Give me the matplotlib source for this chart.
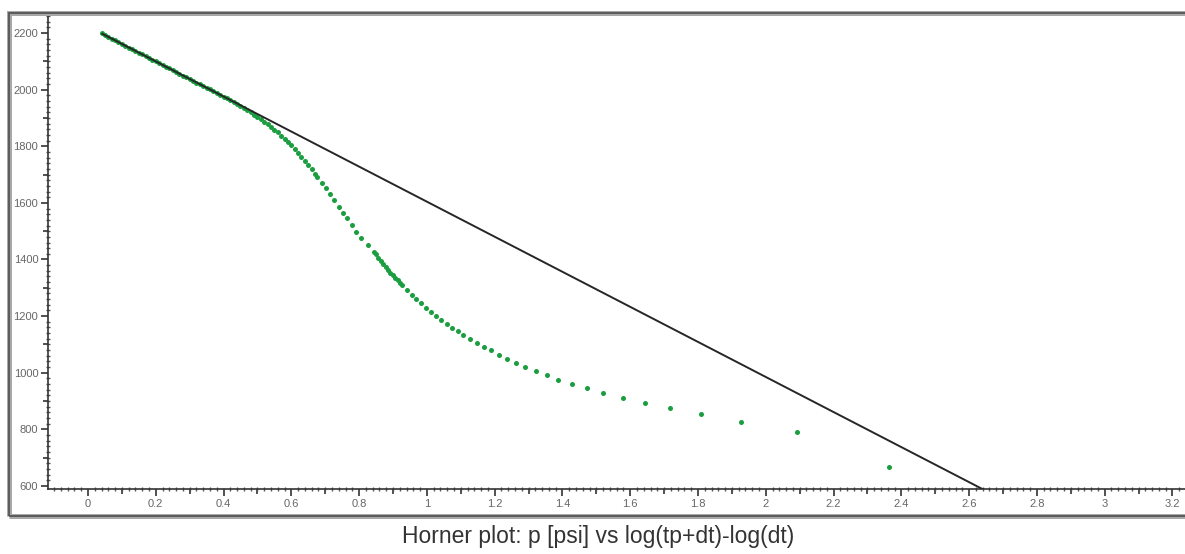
import numpy as np
import matplotlib
matplotlib.use("Agg")
import matplotlib.pyplot as plt
from matplotlib.patches import Rectangle
from matplotlib.ticker import MultipleLocator

plt.rcParams['font.family'] = ['Liberation Sans', 'DejaVu Sans']

# Horner data: x = log(tp+dt)-log(dt), p in psi
horner_x = [0.04, 0.05, 0.06, 0.07, 0.08, 0.09, 0.10, 0.11, 0.12, 0.13,
            0.14, 0.15, 0.16, 0.17, 0.18, 0.19, 0.20, 0.21, 0.22, 0.23,
            0.24, 0.25, 0.26, 0.27, 0.28, 0.29, 0.30, 0.31, 0.32, 0.33,
            0.34, 0.35, 0.36, 0.37, 0.38, 0.39, 0.40, 0.41, 0.42, 0.43,
            0.44, 0.45, 0.46, 0.47, 0.48, 0.49, 0.50, 0.51, 0.52, 0.53,
            0.54, 0.55, 0.56, 0.57, 0.58, 0.59, 0.60, 0.61, 0.62, 0.63,
            0.64, 0.65, 0.66, 0.67,
            0.677, 0.691, 0.703, 0.715, 0.727, 0.741, 0.752, 0.764, 0.778,
            0.792, 0.806, 0.825,
            0.843, 0.850, 0.857, 0.864, 0.871, 0.878, 0.885, 0.892, 0.899,
            0.907, 0.914, 0.921, 0.928,
            0.941, 0.955, 0.969, 0.983, 0.996, 1.012, 1.026, 1.042, 1.058,
            1.074, 1.091, 1.107, 1.128, 1.148, 1.168, 1.190, 1.213, 1.237,
            1.262, 1.290, 1.321, 1.355, 1.388, 1.428, 1.473, 1.520, 1.578,
            1.643, 1.717, 1.808, 1.928, 2.092, 2.364]
horner_p = [2199, 2193, 2187, 2180, 2174, 2168, 2162, 2156, 2149, 2143,
            2137, 2131, 2125, 2118, 2112, 2106, 2100, 2094, 2087, 2081,
            2075, 2069, 2063, 2056, 2050, 2044, 2038, 2031, 2025, 2019,
            2012, 2007, 2001, 1995, 1988, 1982, 1975, 1969, 1962, 1955,
            1948, 1941, 1934, 1927, 1920, 1912, 1904, 1896, 1887, 1878,
            1869, 1859, 1849, 1838, 1827, 1815, 1803, 1790, 1776, 1762,
            1748, 1733, 1718, 1703,
            1693, 1669, 1652, 1631, 1610, 1587, 1565, 1546, 1522,
            1498, 1475, 1451,
            1428, 1418, 1407, 1396, 1385, 1374, 1364, 1354, 1345,
            1335, 1327, 1318, 1310,
            1292, 1276, 1259, 1245, 1230, 1215, 1202, 1186, 1172,
            1159, 1146, 1133, 1120, 1106, 1092, 1079, 1063, 1050,
            1036, 1021, 1006, 991, 975, 961, 945, 927, 912,
            894, 874, 854, 827, 792, 668]

# straight-line fit (semi-log straight line)
fit_x = [0.04, 2.66]
fit_p = [2199, 576]

x_ticks = [0, 0.2, 0.4, 0.6, 0.8, 1, 1.2, 1.4, 1.6, 1.8, 2, 2.2, 2.4, 2.6, 2.8, 3, 3.2]
x_ticklabels = ['0', '0.2', '0.4', '0.6', '0.8', '1', '1.2', '1.4', '1.6', '1.8',
                '2', '2.2', '2.4', '2.6', '2.8', '3', '3.2']
y_ticks = [600, 800, 1000, 1200, 1400, 1600, 1800, 2000, 2200]
y_ticklabels = ['600', '800', '1000', '1200', '1400', '1600', '1800', '2000', '2200']
caption = "Horner plot: p [psi] vs log(tp+dt)-log(dt)"

W, H = 1185, 554
fig = plt.figure(figsize=(W / 100, H / 100), dpi=100)
fig.patch.set_facecolor('white')

left_px, right_px, top_px, bottom_px = 48, 1186, 13, 489
ax = fig.add_axes([left_px / W, 1 - bottom_px / H,
                   (right_px - left_px) / W, (bottom_px - top_px) / H])

ax.scatter(horner_x, horner_p, s=13, color='#1a9e40', marker='o',
           linewidths=0, zorder=2)
ax.plot(fit_x, fit_p, color='#262626', lw=1.4, zorder=3, solid_capstyle='butt')

ax.set_xlim(-0.118, 3.24)
ax.set_ylim(589, 2271)

for side in ['top', 'right']:
    ax.spines[side].set_visible(False)
for side in ['left', 'bottom']:
    ax.spines[side].set_color('#333333')
    ax.spines[side].set_linewidth(1.2)

ax.set_xticks(x_ticks)
ax.set_xticklabels(x_ticklabels)
ax.set_yticks(y_ticks)
ax.set_yticklabels(y_ticklabels)
ax.xaxis.set_minor_locator(MultipleLocator(0.02))
ax.yaxis.set_minor_locator(MultipleLocator(20))
ax.tick_params(axis='both', which='major', direction='out', length=5, width=1.2,
               color='#333333', labelsize=8, labelcolor='#666666', pad=2)
ax.tick_params(axis='both', which='minor', direction='inout', length=2.5,
               width=1.0, color='#555555')

# medium ticks at half-major spacing
secx = ax.secondary_xaxis('bottom')
secx.set_xticks([0.1, 0.3, 0.5, 0.7, 0.9, 1.1, 1.3, 1.5, 1.7, 1.9, 2.1, 2.3,
                 2.5, 2.7, 2.9, 3.1])
secx.tick_params(direction='out', length=3.5, width=1.2, color='#333333',
                 labelbottom=False)
secx.spines['bottom'].set_visible(False)
secy = ax.secondary_yaxis('left')
secy.set_yticks([700, 900, 1100, 1300, 1500, 1700, 1900, 2100])
secy.tick_params(direction='out', length=3.5, width=1.2, color='#333333',
                 labelleft=False)
secy.spines['left'].set_visible(False)

# outer double frame
frame = Rectangle((9 / W, 1 - 516 / H), (W + 20 - 9) / W, (516 - 13) / H,
                  transform=fig.transFigure, fill=False, edgecolor='#a8a8a8',
                  linewidth=3.6, zorder=0)
fig.patches.append(frame)
frame2 = Rectangle((9 / W, 1 - 516 / H), (W + 20 - 9) / W, (516 - 13) / H,
                   transform=fig.transFigure, fill=False, edgecolor='#555555',
                   linewidth=1.3, zorder=1)
fig.patches.append(frame2)

fig.text(0.505, 1 - 536 / H, caption, ha='center', va='center',
         fontsize=16.5, color='#333333')

fig.savefig('out.png', dpi=100)
